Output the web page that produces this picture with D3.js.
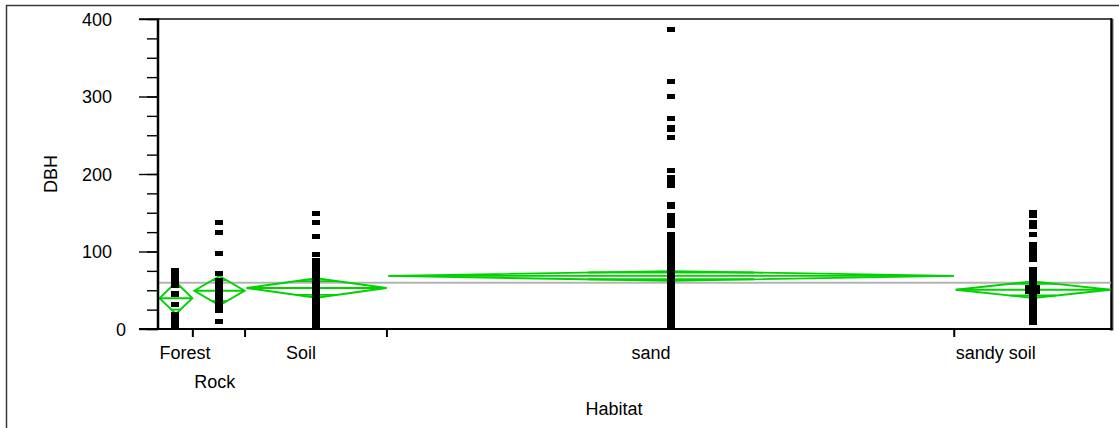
<!DOCTYPE html>
<html>
<head>
<meta charset="utf-8">
<script src="https://cdn.jsdelivr.net/npm/d3@7"></script>
<style>
  body { margin: 0; background: #fff; }
  svg { display: block; font-family: Arial, "Liberation Sans", sans-serif; }
</style>
</head>
<body>
<svg id="chart" width="1119" height="428"></svg>
<script>
// oneway DBH by Habitat, group widths follow sample size
const habitats = ['Forest', 'Rock', 'Soil', 'sand', 'sandy soil']
const counts = [14, 21, 57, 228, 63]
const means = [39.6, 49.4, 52.9, 68.5, 50.7]
const lowerCI = [19.5, 30.4, 40.4, 62.3, 40.0]
const upperCI = [60.5, 68.4, 65.4, 74.7, 61.4]
const grandMean = 59.7

// distinct readable values per habitat (duplicates overplot)
const forestDBH = [75, 72, 69, 66, 63, 60, 57, 56, 46, 45, 31, 19, 16, 13, 10, 7, 5]
const rockDBH = [137, 124, 98, 71, 63, 60, 57, 54, 51, 48, 45, 42, 39, 36, 33, 30, 27, 24, 10]
const soilDBH = [149, 138, 120, 96, 88, 85, 82, 79, 76, 73, 70, 67, 64, 61, 58, 55, 52, 49, 46,
  43, 40, 37, 34, 31, 28, 25, 22, 19, 16, 13, 10, 7, 5]
const sandDBH = [386, 320, 300, 271, 260, 257, 247, 204, 196, 192, 188, 185, 161, 158, 146, 142,
  138, 134, 122, 119, 116, 113, 110, 107, 104, 101, 98, 95, 92, 89, 86, 83, 80, 77, 74, 71, 68,
  65, 62, 59, 56, 53, 50, 47, 44, 41, 38, 35, 32, 29, 26, 23, 20, 17, 14, 11, 8, 5, 2]
const sandySoilDBH = [150, 146, 137, 132, 122, 109, 105, 101, 97, 93, 90, 77, 74, 71, 68, 65, 62,
  59, 56, 53, 50, 47, 44, 41, 38, 35, 32, 29, 26, 23, 20, 17, 14, 11, 8]
const sandySoilMarker = 51

const groupValues = [forestDBH, rockDBH, soilDBH, sandDBH, sandySoilDBH]
const yTicks = [0, 100, 200, 300, 400]
const yMinorTicks = d3.range(0, 401, 25)

const margin = { left: 158, right: 8, top: 19, bottom: 99 }
const W = 1119, H = 428
const svg = d3.select('#chart')

const total = d3.sum(counts)
const starts = counts.map((_, i) => d3.sum(counts.slice(0, i)))

const x = d3.scaleLinear().domain([0, total]).range([margin.left, W - margin.right])
const y = d3.scaleLinear().domain([0, 400]).range([H - margin.bottom, margin.top])

const green = '#00d200'

// outer frame
svg.append('path')
  .attr('d', `M6.5,${H} V5.5 H${W}`)
  .attr('fill', 'none')
  .attr('stroke', '#3a3a3a')
  .attr('stroke-width', 1.5)

// plot frame: top and right
svg.append('line')
  .attr('x1', margin.left - 19).attr('x2', x(total) + 1)
  .attr('y1', y(400)).attr('y2', y(400))
  .attr('stroke', '#111').attr('stroke-width', 1.3)
svg.append('line')
  .attr('x1', x(total) + 2.5).attr('x2', x(total) + 2.5)
  .attr('y1', y(400)).attr('y2', y(0) + 1.5)
  .attr('stroke', '#bbb').attr('stroke-width', 1)
svg.append('line')
  .attr('x1', x(total) + 0.5).attr('x2', x(total) + 0.5)
  .attr('y1', y(400) - 0.5).attr('y2', y(0) + 1.5)
  .attr('stroke', '#000').attr('stroke-width', 2.5)

// grand mean
svg.append('line')
  .attr('x1', x(0)).attr('x2', x(total))
  .attr('y1', y(grandMean)).attr('y2', y(grandMean))
  .attr('stroke', '#b4b4b4').attr('stroke-width', 2)

// means diamonds with overlap marks
const dg = svg.append('g').attr('fill', 'none').attr('stroke', green).attr('stroke-width', 1.9)
habitats.forEach((h, i) => {
  const x0 = x(starts[i]) + 1.5
  const x1 = x(starts[i] + counts[i]) - 0.5
  const cx = (x0 + x1) / 2
  const ym = y(means[i])
  dg.append('path')
    .attr('d', `M${x0},${ym} L${cx},${y(upperCI[i])} L${x1},${ym} L${cx},${y(lowerCI[i])} Z`)
  dg.append('line').attr('x1', x0).attr('x2', x1).attr('y1', ym).attr('y2', ym)
  const half = (upperCI[i] - lowerCI[i]) / 2
  const k = 1 - Math.SQRT1_2
  const hw = (x1 - x0) / 2 * k
  ;[means[i] + half * Math.SQRT1_2, means[i] - half * Math.SQRT1_2].forEach(v => {
    dg.append('line')
      .attr('x1', cx - hw).attr('x2', cx + hw)
      .attr('y1', y(v)).attr('y2', y(v))
  })
})

// points
const pg = svg.append('g').attr('fill', '#000').attr('shape-rendering', 'crispEdges')
groupValues.forEach((vals, i) => {
  const cx = x(starts[i] + counts[i] / 2)
  pg.selectAll(null).data(vals).enter().append('rect')
    .attr('x', cx - 4).attr('y', d => y(d) - 2.5)
    .attr('width', 8).attr('height', 5)
})
{
  const i = habitats.indexOf('sandy soil')
  const cx = x(starts[i] + counts[i] / 2)
  pg.append('rect')
    .attr('x', cx - 7.5).attr('y', y(sandySoilMarker) - 4.5)
    .attr('width', 15).attr('height', 9)
}

// y axis
const yMinor = svg.append('g')
  .attr('transform', `translate(${margin.left},0)`)
  .call(d3.axisLeft(y).tickValues(yMinorTicks).tickSize(11).tickFormat(''))
yMinor.select('.domain').remove()
yMinor.selectAll('.tick line').attr('stroke', '#000').attr('stroke-width', 1.4)

const yAxis = svg.append('g')
  .attr('transform', `translate(${margin.left},0)`)
  .call(d3.axisLeft(y).tickValues(yTicks).tickSize(19).tickPadding(27).tickSizeOuter(0))
yAxis.select('.domain').attr('stroke', '#000').attr('stroke-width', 2.5)
  .attr('d', `M0,${y(400) - 0.5}V${y(0) + 1}`)
yAxis.selectAll('.tick line').attr('stroke', '#000').attr('stroke-width', 1.4)
yAxis.selectAll('.tick text')
  .attr('font-size', 18).attr('fill', '#000')
  .attr('dy', '0.34em')
  .attr('x', d => d === 0 ? -32 : -46)

// x axis baseline and group boundary ticks
svg.append('line')
  .attr('x1', margin.left - 19).attr('x2', x(total) + 1.5)
  .attr('y1', y(0)).attr('y2', y(0))
  .attr('stroke', '#000').attr('stroke-width', 2)
svg.append('g').selectAll('line').data(starts.slice(1)).enter().append('line')
  .attr('x1', d => x(d)).attr('x2', d => x(d))
  .attr('y1', y(0)).attr('y2', y(0) + 8)
  .attr('stroke', '#000').attr('stroke-width', 2)

// category labels: end at group centre, kept inside the group, staggered on overlap
const rowBase = [y(0) + 30, y(0) + 59]
const rowEnd = [-Infinity, -Infinity]
const lg = svg.append('g').attr('font-size', 18).attr('fill', '#000')
habitats.forEach((h, i) => {
  const t = lg.append('text').text(h).attr('text-anchor', 'start')
  const w = t.node().getComputedTextLength()
  const c = x(starts[i] + counts[i] / 2)
  const left = Math.max(c - w, x(starts[i]) + 1.5)
  const row = left < rowEnd[0] ? 1 : 0
  rowEnd[row] = left + w
  t.attr('x', left).attr('y', rowBase[row])
})

// axis titles
svg.append('text')
  .attr('x', 614).attr('y', 415)
  .attr('text-anchor', 'middle').attr('font-size', 18)
  .text('Habitat')
svg.append('text')
  .attr('transform', `translate(57,${(y(0) + y(400)) / 2}) rotate(-90)`)
  .attr('text-anchor', 'middle').attr('font-size', 18)
  .text('DBH')
</script>
</body>
</html>
